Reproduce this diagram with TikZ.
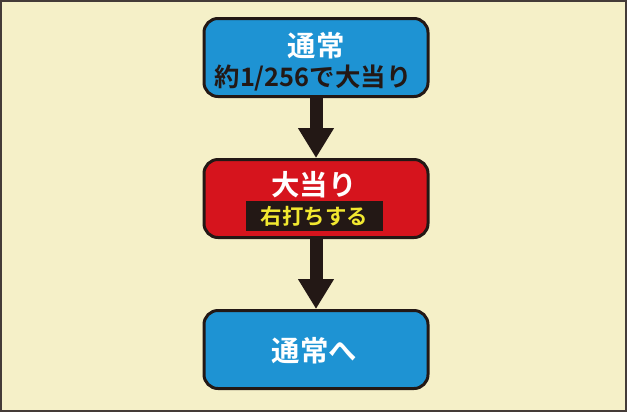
\documentclass[tikz,border=0pt]{standalone}
\usepackage{fontspec}
\newfontfamily\jpfont{Noto Sans CJK JP}[BoldFont={Noto Sans CJK JP Bold}]
\usetikzlibrary{arrows.meta,positioning}
\definecolor{paper}{HTML}{F5F0C8}
\definecolor{stateblue}{HTML}{1E93D3}
\definecolor{statered}{HTML}{D6141D}
\definecolor{ink}{HTML}{231815}
\definecolor{labelyellow}{HTML}{F2E830}

\begin{document}
\begin{tikzpicture}[x=1bp,y=-1bp,
      state/.style={
         rectangle,
         rounded corners=14bp,
         minimum width=224bp,
         minimum height=78bp,
         line width=3bp,
         draw=ink
      },
      title/.style={
         font=\jpfont\bfseries\fontsize{28.5}{30}\selectfont,
         text=white,
         inner sep=0pt
      },
      sub/.style={
         font=\jpfont\bfseries\fontsize{25.5}{27}\selectfont,
         text=ink,
         inner sep=0pt
      },
      tag/.style={
         fill=ink,
         text=labelyellow,
         font=\jpfont\bfseries\fontsize{21.5}{23}\selectfont,
         minimum width=137bp,
         minimum height=30bp,
         inner sep=0pt
      },
      flow/.style={
         -{Triangle[width=34bp,length=30bp]},
         line width=13bp,
         draw=ink
      }
    ]
    % frame
    \fill[paper] (0,0) rectangle (627,412);
    \draw[line width=2bp,draw=ink!85] (1,1) rectangle (626,411);
    % states
    \node (normal) [state, fill=stateblue] at (316,57.5) {};
    \node (normalT) [title] at (316,46) {通常};
    \node (normalS) [sub] at (313,78) {約1/256で大当り};
    \node (hit) [state, fill=statered] at (316,198.5) {};
    \node (hitT) [title] at (314,185) {大当り};
    \node (hitS) [tag] at (314.5,216) {右打ちする};
    \node (back) [state, fill=stateblue] at (316,349.5) {};
    \node (backT) [title] at (314.5,351) {通常へ};
    % transitions
    \draw[flow] (normal.south) -- (hit.north);
    \draw[flow] (hit.south) -- (back.north);
\end{tikzpicture}
\end{document}
